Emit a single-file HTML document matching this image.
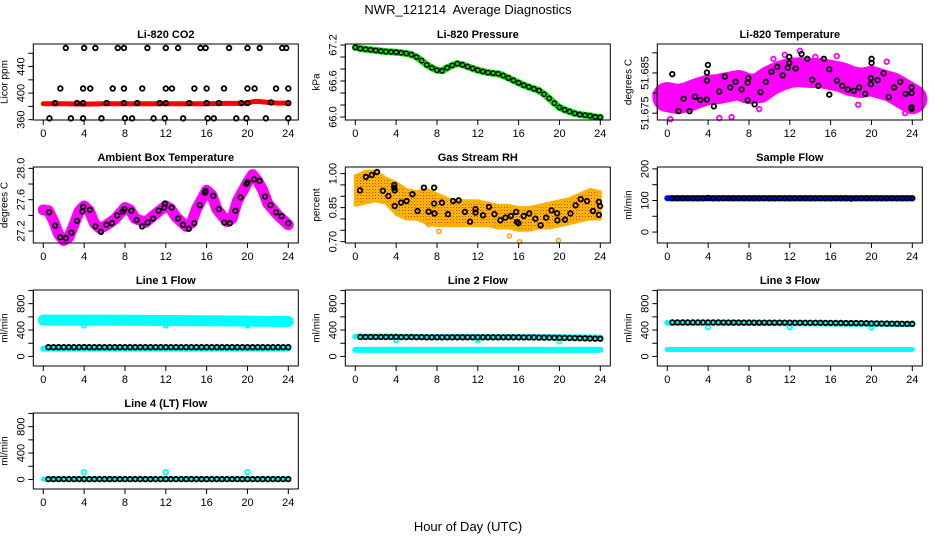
<!DOCTYPE html>
<html><head><meta charset="utf-8">
<style>
html,body{margin:0;padding:0;background:#fff;}
svg{display:block;font-family:"Liberation Sans",Arial,sans-serif;}
</style></head>
<body>
<svg id="fig" width="936" height="540" viewBox="0 0 936 540" xmlns="http://www.w3.org/2000/svg">
<defs>
<pattern id="rhpat" width="3" height="3" patternUnits="userSpaceOnUse">
<rect width="3" height="3" fill="#ffd800"/><rect width="1.2" height="1.2" fill="#ff2000"/><rect x="1.5" y="1.5" width="1.2" height="1.2" fill="#ff6000"/>
</pattern>
</defs>
<text x="468" y="14" text-anchor="middle" font-size="13">NWR_121214&#160; Average Diagnostics</text>
<text x="468" y="531" text-anchor="middle" font-size="13">Hour of Day (UTC)</text>
</svg>
<script>
// ---------- data ----------
const xTicks = [0,4,8,12,16,20,24];
// CO2
const co2Hours = [2.2,4.0,5.1,7.3,7.9,10.2,12.0,13.2,15.4,15.9,18.2,20.0,21.2,23.4,23.8,
 1.67,3.9,4.6,6.8,7.9,9.7,12.0,12.6,14.8,16.0,17.7,20.0,20.7,22.8,24.0,
 1.15,3.3,3.9,6.2,7.9,9.2,11.4,12.0,14.3,16.0,17.2,19.4,20.0,22.3,24.0,
 0.6,2.7,3.9,5.7,8.0,8.7,10.8,11.9,13.7,16.1,16.7,18.9,19.9,21.8,24.0];
const co2Vals = [468,468,468,468,468,468,468,468,468,468,468,468,468,468,468,
 407,407,407,407,407,407,407,407,407,407,407,407,407,407,407,
 385,385,385,385,385,385,385,385,385,385,385,385,385,386,385,
 362,362,362,362,362,362,362,362,362,362,362,362,362,362,362];
const co2BandHours = [0,2,4,6,8,10,12,14,16,18,19,20,20.5,21,22,23,24];
const co2BandVals = [384,384,383.5,384,384,384,384,384,384,384.5,384.5,385,387,387.5,386,385,385];
// Pressure
const presHours = [0,0.5,1,1.5,2,2.5,3,3.5,4,4.5,5,5.5,6,6.5,7,7.5,8,8.5,9,9.5,10,10.5,11,11.5,12,12.5,13,13.5,14,14.5,15,15.5,16,16.5,17,17.5,18,18.5,19,19.5,20,20.5,21,21.5,22,22.5,23,23.5,24];
const presVals = [67.16,67.14,67.13,67.12,67.11,67.10,67.09,67.085,67.08,67.07,67.06,67.04,67.0,66.94,66.87,66.82,66.78,66.77,66.82,66.86,66.89,66.87,66.84,66.81,66.78,66.76,66.74,66.73,66.72,66.69,66.65,66.61,66.57,66.53,66.50,66.47,66.44,66.38,66.31,66.23,66.16,66.12,66.09,66.06,66.04,66.03,66.02,66.0,65.995];
// Li-820 temperature
const tempHours = [0.49,1.11,1.6,2.18,2.7,3.23,3.88,3.88,3.88,3.98,4.56,5.09,5.64,6.17,6.69,7.28,7.87,7.87,7.93,8.55,9.14,9.66,10.2,10.77,11.3,11.8,11.95,11.95,12.57,13.15,13.71,14.2,14.79,15.34,15.87,15.87,16.61,17.14,17.69,18.28,18.8,19.39,19.94,19.94,20.01,20.01,20.6,21.19,21.7,22.23,22.82,23.34,23.93,23.93,23.93,23.93];
const tempVals = [51.6847,51.6755,51.6786,51.6755,51.6791,51.6783,51.6784,51.6831,51.6851,51.6870,51.6767,51.6804,51.6841,51.6814,51.6828,51.6809,51.6782,51.6826,51.6837,51.6772,51.6802,51.6828,51.6853,51.6865,51.6844,51.6863,51.6875,51.6890,51.6861,51.6897,51.6885,51.6833,51.6818,51.6885,51.6859,51.6796,51.6831,51.6818,51.6809,51.6806,51.6814,51.6798,51.6822,51.6837,51.6875,51.6885,51.6832,51.6849,51.6790,51.6814,51.6828,51.6798,51.6814,51.6800,51.6765,51.6761];
const tempBandHours = [0,1,2,3,4,5,6,7,8,9,10,11,12,13,14,15,16,17,18,19,20,21,22,23,24];
const tempBandVals = [51.6790,51.6785,51.6790,51.6800,51.6808,51.6810,51.6815,51.6820,51.6810,51.6812,51.6830,51.6842,51.6850,51.6852,51.6850,51.6850,51.6845,51.6840,51.6830,51.6825,51.6830,51.6822,51.6815,51.6800,51.6785];
const tempOutHours = [0.3,5.1,6.3,18.7,13.0,10.4,11.5,16.6,23.3,0.8,2.5,9.0,14.5,21.5];
const tempOutVals = [51.6735,51.6738,51.6740,51.6771,51.6905,51.6885,51.6895,51.6892,51.6750,51.6770,51.6765,51.6760,51.6890,51.6878];
// Ambient
const ambHours = [0.58,1.16,1.66,2.21,2.75,3.29,3.83,3.91,4.57,5.11,5.65,6.19,6.74,7.24,7.78,7.94,8.63,9.14,9.68,10.22,10.76,11.3,11.85,11.92,12.58,13.2,13.7,14.25,14.79,15.33,15.83,15.91,16.65,17.19,17.73,18.27,18.82,19.32,19.9,20.0,20.63,21.18,21.72,22.26,22.8,23.34,24.0];
const ambVals = [27.44,27.27,27.12,27.11,27.18,27.33,27.45,27.51,27.47,27.26,27.19,27.28,27.30,27.40,27.45,27.48,27.46,27.34,27.26,27.31,27.36,27.46,27.50,27.55,27.50,27.36,27.28,27.23,27.30,27.53,27.69,27.71,27.65,27.48,27.31,27.30,27.46,27.63,27.80,27.82,27.86,27.84,27.64,27.53,27.44,27.39,27.30];
const ambBandHours = [0,0.5,1,1.5,2,2.5,3,3.5,4,4.5,5,5.5,6,7,8,8.5,9,10,11,12,12.5,13,14,14.5,15,16,16.5,17,18,18.5,19,20,20.5,21,21.5,22,23,24];
const ambBandVals = [27.47,27.46,27.33,27.16,27.08,27.12,27.28,27.45,27.52,27.46,27.30,27.24,27.26,27.35,27.50,27.47,27.36,27.31,27.42,27.52,27.48,27.38,27.26,27.30,27.48,27.72,27.66,27.48,27.32,27.36,27.58,27.82,27.92,27.84,27.72,27.55,27.40,27.28];
// RH
const rhHours = [0.46,1.04,1.62,2.12,2.70,3.24,3.82,3.82,3.86,3.86,4.48,5.02,5.6,6.1,6.72,7.18,7.72,7.76,7.72,8.49,9.07,9.58,10.12,10.73,11.24,11.78,11.78,12.51,13.09,13.63,14.21,14.71,15.25,15.75,15.83,15.98,16.49,17.03,17.64,18.15,18.69,19.23,19.77,19.8,20.54,21.08,21.58,22.08,22.7,23.28,23.86,23.86,23.98];
const rhVals = [0.926,0.985,0.994,1.007,0.924,0.901,0.938,0.950,0.926,0.857,0.872,0.879,0.909,0.835,0.938,0.832,0.938,0.824,0.868,0.872,0.821,0.879,0.882,0.831,0.788,0.843,0.828,0.816,0.853,0.821,0.794,0.806,0.813,0.831,0.787,0.781,0.813,0.824,0.801,0.772,0.806,0.838,0.825,0.794,0.797,0.824,0.860,0.887,0.879,0.835,0.875,0.818,0.857];
const rhBandHours = [0,1,2,3,4,5,6,7,8,9,10,11,12,13,14,15,16,17,18,19,20,21,22,23,24];
const rhUpper = [0.99,1.01,1.01,0.98,0.96,0.93,0.92,0.93,0.91,0.89,0.88,0.88,0.88,0.87,0.86,0.86,0.85,0.85,0.86,0.87,0.88,0.89,0.91,0.93,0.92];
const rhLower = [0.86,0.87,0.88,0.87,0.82,0.80,0.80,0.78,0.77,0.77,0.77,0.77,0.77,0.77,0.76,0.76,0.75,0.75,0.76,0.76,0.77,0.78,0.79,0.80,0.80];
const rhOutHours = [8.2,15.1,16.1,19.9,7.2];
const rhOutVals = [0.745,0.725,0.700,0.705,0.775];
// Flows (half-hourly)
const flowHours = [0.5,1,1.5,2,2.5,3,3.5,4,4.5,5,5.5,6,6.5,7,7.5,8,8.5,9,9.5,10,10.5,11,11.5,12,12.5,13,13.5,14,14.5,15,15.5,16,16.5,17,17.5,18,18.5,19,19.5,20,20.5,21,21.5,22,22.5,23,23.5,24];
const sampleVals = [107,107,107,107,107,107,107,108,107,107,107,107,107,107,107,107,107,107,107,107,107,107,107,107,107,107,107,107,107,107,107,107,107,107,107,106,107,107,107,107,107,107,107,107,107,107,107,107];
const line1Black = [140,140,140,140,140,140,140,142,140,140,140,140,140,140,140,140,140,140,140,140,140,140,140,140,140,140,140,140,140,140,140,140,140,140,140,140,140,140,140,140,140,140,140,140,140,140,140,140];
const line2Black = [295,295,295,295,295,295,295,295,293,293,293,292,292,290,290,290,290,290,290,290,290,290,290,290,290,290,290,290,290,290,290,290,288,288,288,286,285,284,283,282,280,280,278,276,274,272,270,268];
const line3Black = [515,515,515,515,515,515,515,515,515,515,514,514,514,514,513,513,512,512,512,512,512,512,512,512,510,510,510,510,510,510,508,508,507,507,506,505,505,504,503,500,500,499,498,497,496,495,494,494];
const line4Black = [5,5,5,5,5,5,5,5,5,5,5,5,5,5,5,5,5,5,5,5,5,5,5,5,5,5,5,5,5,5,5,5,5,5,5,5,5,5,5,5,5,5,5,5,5,5,5,5];
const bandHours = [0,4,8,12,16,20,24];
const line1CyanHi = [550,550,548,545,540,535,530];
const line1CyanLo = [118,118,118,118,118,118,118];
const line2CyanHi = [300,298,295,295,293,290,285];
const line2CyanLo = [100,100,100,100,100,100,100];
const line3CyanHi = [510,510,508,505,500,495,490];
const line3CyanLo = [105,105,105,105,105,105,105];
const line4Cyan = [5,5,5,5,5,5,5];
const spikeHours = [4,12,20];
const line1Spike = [470,470,470];
const line2Spike = [245,245,230];
const line3Spike = [445,445,440];
const line4Spike = [110,110,110];
// ---------- drawing ----------
const NS='http://www.w3.org/2000/svg';
const svg=document.getElementById('fig');
function mk(tag,attrs,parent){const e=document.createElementNS(NS,tag);for(const k in attrs)e.setAttribute(k,attrs[k]);(parent||svg).appendChild(e);return e;}
function fmt(v,arr){let d=0;arr.forEach(a=>{const s=String(a);if(s.includes('.'))d=Math.max(d,s.split('.')[1].length);});
  if(arr.some(a=>Math.abs(a)<10 && Math.abs(a)>0 && String(a).includes('.')))d=Math.max(d,2);return v.toFixed(d);}
function panel(col,row,title,ylab,ylim,yticks,ylabels,name){
  const x0=43.3+col*312, top=44+row*123, h=76, bl=x0-10, br=x0+255;
  const g=mk('g',{});
  
  
  const X=v=>x0+v*245/24;
  const Y=v=>top+(ylim[1]-v)/(ylim[1]-ylim[0])*h;
  const t=mk('text',{x:(bl+br)/2,y:top-6,'text-anchor':'middle','font-size':11,'font-weight':'bold'},g);t.textContent=title;
  
  
  const yl=mk('text',{x:0,y:0,'text-anchor':'middle','font-size':10,transform:`translate(${bl-26},${top+h/2}) rotate(-90)`},g);yl.textContent=ylab;
  
  
  const data=mk('g',{},g);
  
  
  const frame=mk('rect',{x:bl,y:top,width:br-bl,height:h,fill:'none',stroke:'#000','stroke-width':1},g);
  
  
  yticks.forEach(v=>{mk('line',{x1:bl,x2:bl-5,y1:Y(v),y2:Y(v),stroke:'#000'},g);});
  mk('line',{x1:bl,x2:bl,y1:Y(yticks[0]),y2:Y(yticks[yticks.length-1]),stroke:'#000'},g);
  ylabels.forEach(v=>{const tx=mk('text',{x:0,y:0,'text-anchor':'middle','font-size':11,transform:`translate(${bl-9},${Y(v)}) rotate(-90)`},g);tx.textContent=fmt(v,ylabels);
    
    });
  xTicks.forEach(v=>{mk('line',{x1:X(v),x2:X(v),y1:top+h,y2:top+h+5,stroke:'#000'},g);
    const tx=mk('text',{x:X(v),y:top+h+17,'text-anchor':'middle','font-size':11},g);tx.textContent=v;
    
    });
  mk('line',{x1:X(0),x2:X(24),y1:top+h,y2:top+h,stroke:'#000'},g);
  return {X,Y,g:data};
}
function circles(P,hs,vs,color,name,r,sw){hs.forEach((hh,i)=>{const c=mk('circle',{cx:P.X(hh),cy:P.Y(vs[i]),r:r||2.3,fill:'none',stroke:color,'stroke-width':sw||1.8},P.g);
  
  });}
function band(P,hs,vs,color,w,name){const l=mk('polyline',{points:hs.map((hh,i)=>P.X(hh)+','+P.Y(vs[i])).join(' '),fill:'none',stroke:color,'stroke-width':w,'stroke-linejoin':'round','stroke-linecap':'round'},P.g);
  
  }
function area(P,hs,up,lo,fill,name){const pts=hs.map((hh,i)=>P.X(hh)+','+P.Y(up[i])).concat(hs.slice().reverse().map((hh,j)=>P.X(hh)+','+P.Y(lo[hs.length-1-j])));
  const p=mk('polygon',{points:pts.join(' '),fill:fill,stroke:'#ffb000','stroke-width':3,'stroke-linejoin':'round'},P.g);
  
  }

// CO2
let P=panel(0,0,'Li-820 CO2','Licor ppm',[359.5,474],[360,380,400,420,440,460],[360,400,440],'co2');
band(P,co2BandHours,co2BandVals,'#ff0000',5,'co2-band');
circles(P,co2Hours,co2Vals,'#000','co2-point');
// Pressure
P=panel(1,0,'Li-820 Pressure','kPa',[65.95,67.217],[66.0,66.2,66.4,66.6,66.8,67.0,67.2],[66.0,66.6,67.2],'pressure');
band(P,presHours,presVals,'#00ee00',7,'pressure-band');
circles(P,presHours,presVals,'#000','pressure-point',2.2,1.5);
// Temperature
P=panel(2,0,'Li-820 Temperature','degrees C',[51.6733,51.6922],[51.675,51.680,51.685,51.690],[51.675,51.685],'li820-temp');
band(P,tempBandHours,tempBandVals,'#ff00ff',30,'temp-band');
circles(P,tempOutHours,tempOutVals,'#ff00ff','temp-outlier');
circles(P,tempHours,tempVals,'#000','temp-point');
// Ambient
P=panel(0,1,'Ambient Box Temperature','degrees C',[27.048,28.017],[27.2,27.4,27.6,27.8,28.0],[27.2,27.6,28.0],'ambient');
band(P,ambBandHours,ambBandVals,'#ff00ff',11,'ambient-band');
circles(P,ambHours,ambVals,'#000','ambient-point');
// RH
P=panel(1,1,'Gas Stream RH','percent',[0.694,1.029],[0.70,0.75,0.80,0.85,0.90,0.95,1.00],[0.70,0.85,1.00],'rh');
area(P,rhBandHours,rhUpper,rhLower,'url(#rhpat)','rh-band');
circles(P,rhOutHours,rhOutVals,'#ff9000','rh-outlier',2,1.3);
circles(P,rhHours,rhVals,'#000','rh-point');
// Sample flow
P=panel(2,1,'Sample Flow','ml/min',[-34.6,206],[0,50,100,150,200],[0,100,200],'sample-flow');
band(P,[0,24],[107,107],'#0000ff',6,'sample-band');
circles(P,flowHours,sampleVals,'#000','sample-point');
// Line flows
const ft=[0,200,400,600,800,1000], fl=[0,400,800], fy=[-145,1007];
P=panel(0,2,'Line 1 Flow','ml/min',fy,ft,fl,'line1');
band(P,bandHours,line1CyanHi,'#00ffff',11,'line1-cyan-high');
band(P,bandHours,line1CyanLo,'#00ffff',6,'line1-cyan-low');
circles(P,spikeHours,line1Spike,'#00ffff','line1-spike');
circles(P,flowHours,line1Black,'#000','line1-point');
P=panel(1,2,'Line 2 Flow','ml/min',fy,ft,fl,'line2');
band(P,bandHours,line2CyanHi,'#00ffff',6,'line2-cyan-high');
band(P,bandHours,line2CyanLo,'#00ffff',6,'line2-cyan-low');
circles(P,spikeHours,line2Spike,'#00ffff','line2-spike');
circles(P,flowHours,line2Black,'#000','line2-point');
P=panel(2,2,'Line 3 Flow','ml/min',fy,ft,fl,'line3');
band(P,bandHours,line3CyanHi,'#00ffff',6,'line3-cyan-high');
band(P,bandHours,line3CyanLo,'#00ffff',5,'line3-cyan-low');
circles(P,spikeHours,line3Spike,'#00ffff','line3-spike');
circles(P,flowHours,line3Black,'#000','line3-point');
P=panel(0,3,'Line 4 (LT) Flow','ml/min',fy,ft,fl,'line4');
band(P,bandHours,line4Cyan,'#00ffff',5,'line4-cyan');
circles(P,spikeHours,line4Spike,'#00ffff','line4-spike');
circles(P,flowHours,line4Black,'#000','line4-point');
</script>
</body></html>
